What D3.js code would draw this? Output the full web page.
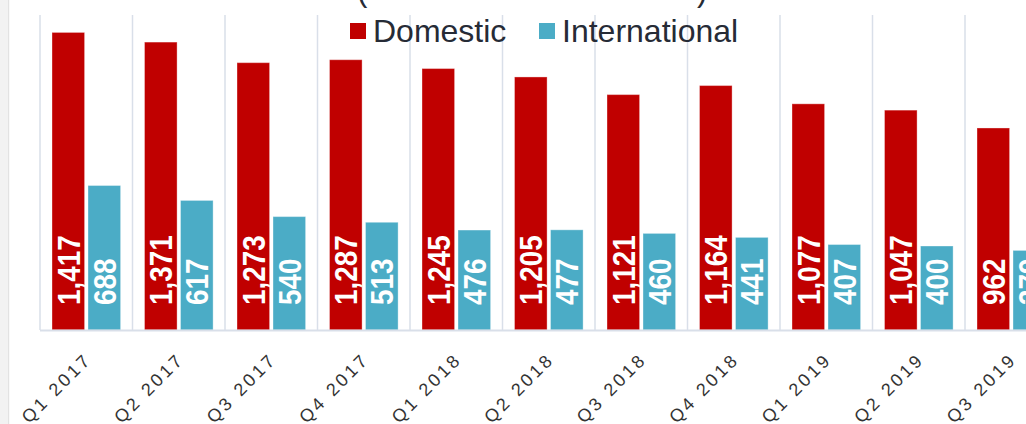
<!DOCTYPE html>
<html>
    <head>
        <title></title>
        <style>
            body { margin: 0; background: #fff; }
            svg { display: block; }
            .axis-label { font-family: "Liberation Sans", Arial, sans-serif; font-size: 18px; fill: #333; letter-spacing: 3px; }
            .bar-label { font-family: "Liberation Sans", Arial, sans-serif; font-size: 32px; font-weight: bold; fill: #fff; }
            .legend text { font-family: "Liberation Sans", Arial, sans-serif; font-size: 32px; fill: #262b36; }
        </style>
    </head>
    <body>
        <script src="https://cdnjs.cloudflare.com/ajax/libs/d3/7.8.5/d3.min.js"></script>
        <script>

        // data
        var quarters = ["Q1 2017", "Q2 2017", "Q3 2017", "Q4 2017", "Q1 2018", "Q2 2018",
                        "Q3 2018", "Q4 2018", "Q1 2019", "Q2 2019", "Q3 2019"];
        var domestic = [1417, 1371, 1273, 1287, 1245, 1205, 1121, 1164, 1077, 1047, 962];
        var international = [688, 617, 540, 513, 476, 477, 460, 441, 407, 400, 379];
        var seriesNames = ["Domestic", "International"];
        var colors = ["#c00000", "#4bacc6"];

        var w = 1026;
        var h = 424;
        var plotLeft = 40, plotTop = 15, plotBottom = 330;
        var bandW = 92.5;

        var svg = d3.select("body")
                    .append("svg")
                    .attr("width", w)
                    .attr("height", h);

        // grey strip on the left edge
        svg.append("rect").attr("x", 0).attr("y", 0).attr("width", 8).attr("height", h).attr("fill", "#f2f2f2");
        svg.append("rect").attr("x", 8).attr("y", 0).attr("width", 1.2).attr("height", h).attr("fill", "#e2e2e2");

        var xScale = d3.scaleBand()
                       .domain(quarters)
                       .range([plotLeft, plotLeft + bandW * quarters.length])
                       .padding(0);

        var xInner = d3.scaleBand()
                       .domain(seriesNames)
                       .range([12, 80.6])
                       .paddingInner(0.095);

        var yScale = d3.scaleLinear()
                       .domain([0, 1500])
                       .range([plotBottom, plotTop]);

        // vertical separators between categories
        var bounds = quarters.map(function(q) { return xScale(q); });
        bounds.push(xScale.range()[1]);
        svg.append("g")
            .selectAll("line")
            .data(bounds)
            .enter()
            .append("line")
            .attr("x1", function(d) { return d; })
            .attr("x2", function(d) { return d; })
            .attr("y1", plotTop)
            .attr("y2", plotBottom)
            .attr("stroke", "#d9dfe9")
            .attr("stroke-width", 1.5);

        // title (only its lower edge is inside the picture)
        svg.append("text").attr("x", 357).attr("y", 1).attr("font-family", "Liberation Sans, Arial").attr("font-size", 31).attr("fill", "#262b36").text("(");
        svg.append("text").attr("x", 697).attr("y", 1).attr("font-family", "Liberation Sans, Arial").attr("font-size", 31).attr("fill", "#262b36").text(")");

        var rows = quarters.map(function(q, i) {
            return { q: q, vals: [domestic[i], international[i]] };
        });

        var groups = svg.append("g")
            .selectAll("g")
            .data(rows)
            .enter()
            .append("g")
            .attr("transform", function(d) { return "translate(" + xScale(d.q) + ",0)"; });

        var cells = groups.selectAll("g")
            .data(function(d) {
                return d.vals.map(function(v, j) { return { name: seriesNames[j], v: v, j: j }; });
            })
            .enter()
            .append("g");

        cells.append("rect")
            .attr("x", function(d) { return xInner(d.name); })
            .attr("width", xInner.bandwidth())
            .attr("y", function(d) { return yScale(d.v); })
            .attr("height", function(d) { return plotBottom - yScale(d.v); })
            .attr("fill", function(d) { return colors[d.j]; })
            .attr("stroke", "#fff")
            .attr("stroke-opacity", 0.35)
            .attr("stroke-width", 1);

        // value labels, squeezed a little along their length
        cells.append("text")
            .attr("class", "bar-label")
            .attr("transform", function(d) {
                return "translate(" + (xInner(d.name) + xInner.bandwidth() / 2) + "," + (plotBottom - 25) + ") rotate(-90) scale(0.87,1)";
            })
            .attr("dy", "0.36em")
            .text(function(d) { return d3.format(",")(d.v); });

        // x axis line
        svg.append("line")
            .attr("x1", plotLeft)
            .attr("x2", w)
            .attr("y1", plotBottom + 0.5)
            .attr("y2", plotBottom + 0.5)
            .attr("stroke", "#d9dfe9")
            .attr("stroke-width", 2);

        // category labels
        svg.append("g")
            .selectAll("text")
            .data(quarters)
            .enter()
            .append("text")
            .attr("class", "axis-label")
            .attr("text-anchor", "end")
            .attr("transform", function(d) {
                return "translate(" + (xScale(d) + xScale.bandwidth() / 2 + 2) + "," + (plotBottom + 26) + ") rotate(-45)";
            })
            .attr("dy", "0.35em")
            .text(function(d) { return d; });

        // legend
        var legend = svg.append("g").attr("class", "legend");
        var legendX = [350, 539];
        seriesNames.forEach(function(name, i) {
            legend.append("rect")
                .attr("x", legendX[i])
                .attr("y", 23)
                .attr("width", 16)
                .attr("height", 16)
                .attr("fill", colors[i]);
            legend.append("text")
                .attr("x", legendX[i] + 23)
                .attr("y", 42)
                .text(name);
        });

        </script>
    </body>
</html>
